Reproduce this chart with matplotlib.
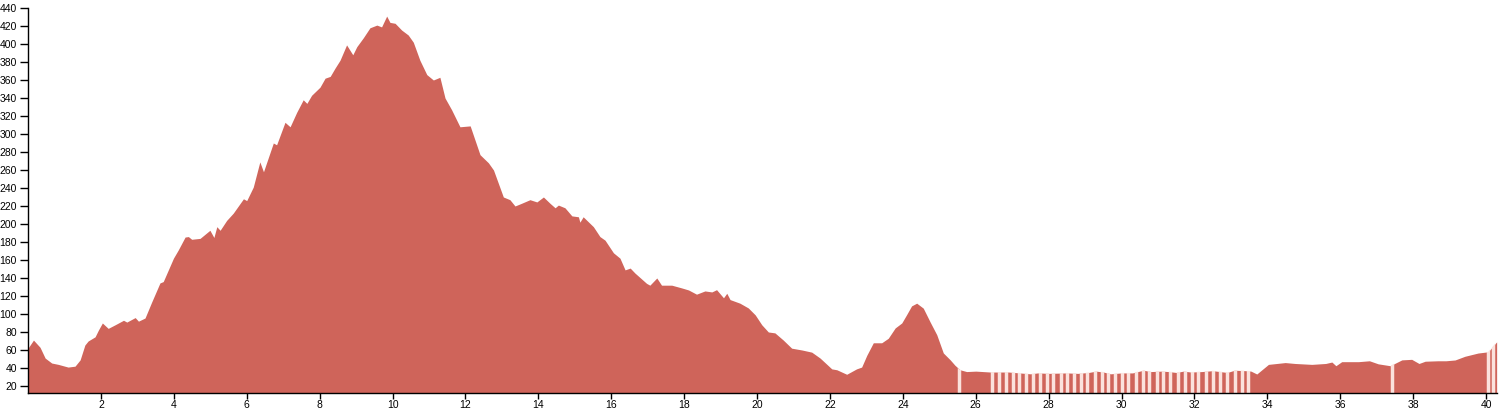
import numpy as np
import matplotlib
matplotlib.use("Agg")
import matplotlib.pyplot as plt

dist = [0.0, 0.15, 0.33, 0.47, 0.65, 0.83, 1.1, 1.29, 1.43, 1.56, 1.65, 1.84, 1.93, 2.04, 2.2,
        2.39, 2.62, 2.71, 2.94, 3.03, 3.21, 3.39, 3.62, 3.71, 3.99, 4.12, 4.31, 4.4, 4.49, 4.72,
        4.99, 5.1, 5.18, 5.27, 5.45, 5.63, 5.91, 6.0, 6.18, 6.36, 6.46, 6.73, 6.82, 7.05, 7.19,
        7.37, 7.55, 7.65, 7.78, 8.01, 8.15, 8.29, 8.42, 8.56, 8.74, 8.91, 9.02, 9.2, 9.38, 9.57,
        9.7, 9.84, 9.93, 10.07, 10.25, 10.43, 10.57, 10.75, 10.94, 11.12, 11.3, 11.44, 11.62,
        11.85, 12.13, 12.4, 12.63, 12.77, 13.04, 13.22, 13.36, 13.54, 13.77, 13.96, 14.14, 14.32,
        14.46, 14.55, 14.73, 14.92, 15.1, 15.14, 15.23, 15.51, 15.69, 15.83, 16.06, 16.24, 16.38,
        16.52, 16.65, 16.97, 17.06, 17.25, 17.38, 17.66, 17.93, 18.12, 18.34, 18.57, 18.76,
        18.89, 19.08, 19.17, 19.26, 19.53, 19.76, 19.95, 20.13, 20.31, 20.49, 20.72, 20.95,
        21.23, 21.5, 21.73, 22.05, 22.19, 22.46, 22.73, 22.87, 23.01, 23.19, 23.42, 23.6, 23.79,
        23.97, 24.1, 24.24, 24.38, 24.56, 24.75, 24.93, 25.11, 25.3, 25.43, 25.57, 25.75, 26.0,
        26.4, 26.9, 27.2, 27.5, 27.7, 28.0, 28.5, 28.8, 29.1, 29.3, 29.5, 29.7, 30.0, 30.3,
        30.6, 30.8, 31.1, 31.3, 31.5, 31.7, 31.9, 32.2, 32.5, 32.7, 32.9, 33.1, 33.4, 33.55,
        33.71, 34.03, 34.49, 34.76, 35.22, 35.6, 35.77, 35.88, 36.04, 36.5, 36.8, 37.04, 37.37,
        37.69, 37.96, 38.16, 38.33, 38.68, 38.9, 39.15, 39.42, 39.78, 40.06, 40.29]
elev = [62, 71, 63, 51, 45.5, 44, 41, 42, 49, 65.5, 70, 74.6, 82, 90, 84,
        88, 93, 91, 96, 92, 95.5, 113, 134.5, 136, 162, 171, 185.5, 186, 183, 184,
        193, 185, 197, 193, 204, 212, 228, 226, 241, 269, 258, 290, 288, 313, 308,
        324, 338, 334, 343, 352, 362, 364, 373, 382, 399, 388, 397, 407, 418, 421,
        419, 431, 424, 423, 415.5, 410, 402, 382, 366, 360, 363, 340, 327,
        308, 309, 277, 268, 260, 230, 227, 220, 223, 227, 224.5, 230, 223,
        218, 221, 218, 209, 208, 202, 208, 197, 186, 182, 168, 162, 149,
        151, 145.5, 134, 132, 140, 132, 132, 129, 126.7, 122, 125.6, 124.5,
        127, 118, 123, 116, 112, 106.7, 99, 88, 80, 79, 71, 62,
        60, 57.6, 51, 39, 38, 33, 39, 41, 54, 68, 68, 73, 84.5,
        90, 99, 109, 112, 106.5, 91, 77, 56.7, 49, 43, 38, 36, 36.5,
        35.5, 35.5, 34.5, 33.5, 34.5, 34, 34.5, 34, 35, 36.5, 35.5, 33.5, 34.5, 34.5,
        37.5, 36, 36.5, 36, 35, 36.5, 35.5, 36, 37, 36, 35, 37.5, 37, 36.5,
        33.3, 44, 46, 45, 44, 45, 46.6, 42.5, 47, 47, 48, 44.6, 42.5,
        49, 49.6, 45, 47.5, 48, 48, 48.9, 53, 56.6, 58, 69]

# positions of the pale seams in the profile (km)
seams = [25.55, 26.44, 26.65, 26.83, 27.01, 27.2, 27.38, 27.56, 27.76, 27.95, 28.13, 28.33,
         28.51, 28.7, 28.88, 29.06, 29.26, 29.46, 29.64, 29.82, 30.0, 30.19, 30.4, 30.58,
         30.76, 30.97, 31.15, 31.33, 31.56, 31.74, 31.93, 32.11, 32.32, 32.52, 32.7, 32.9,
         33.11, 33.3, 33.48, 37.41, 40.06, 40.2]

x_ticks = list(range(2, 41, 2))
y_ticks = list(range(20, 441, 20))

fill_color = "#cf645a"
seam_color = "#fbe2dd"

plt.rcParams['font.family'] = ['Liberation Sans', 'DejaVu Sans']

fig = plt.figure(figsize=(15.01, 4.12), dpi=100)
ax = fig.add_axes([28 / 1501, 1 - 393 / 412, (1497 - 28) / 1501, (393 - 8) / 412])

y_min = 12.2
poly = ax.fill_between(dist, elev, y_min, color=fill_color, linewidth=0, zorder=2)

seam_lines = ax.vlines(seams, y_min, 440, colors=seam_color, linewidth=2.5, zorder=3)
path = poly.get_paths()[0]
seam_lines.set_clip_path(path, ax.transData)

ax.set_xlim(0, 40.3)
ax.set_ylim(y_min, 440)
ax.set_xticks(x_ticks)
ax.set_xticklabels([str(t) for t in x_ticks])
ax.set_yticks(y_ticks)
ax.set_yticklabels([str(t) for t in y_ticks])

for side in ("top", "right"):
    ax.spines[side].set_visible(False)
for side in ("left", "bottom"):
    ax.spines[side].set_linewidth(1.0)
    ax.spines[side].set_color("black")
    ax.spines[side].set_zorder(5)

ax.tick_params(axis="both", direction="out", width=1, colors="black", labelsize=7.5)
ax.tick_params(axis="y", length=6, pad=2)
ax.tick_params(axis="x", length=4, pad=1)

fig.savefig("out.png", dpi=100, facecolor="white")
